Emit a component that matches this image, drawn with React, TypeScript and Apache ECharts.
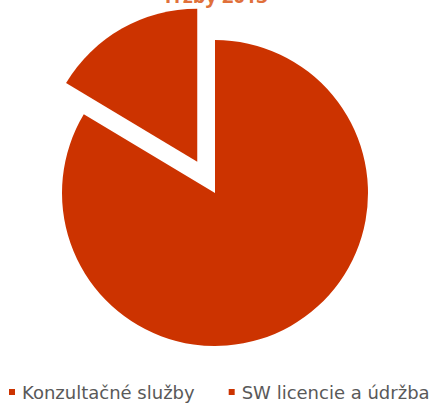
import React, { useEffect, useRef } from "react";
import * as echarts from "echarts";

const categories = ["Konzultačné služby", "SW licencie a údržba"];
const values = [83.6, 16.4];
const titleText = "Tržby 2013";

export default function App() {
  const ref = useRef<HTMLDivElement>(null);
  useEffect(() => {
    if (!ref.current) return;
    const chart = echarts.init(ref.current, undefined, { renderer: "svg" });
    chart.setOption({
      animation: false,
      color: ["#CC3300", "#CC3300"],
      graphic: [
        {
          type: "text",
          x: 215,
          y: 5,
          style: {
            text: titleText,
            align: "center",
            verticalAlign: "bottom",
            fill: "#E0703A",
            fontSize: 20,
            fontWeight: "bold",
            fontFamily: "Open Sans",
          },
        },
      ],
      legend: {
        left: 9,
        top: 383,
        width: 480,
        padding: 0,
        icon: "rect",
        itemWidth: 6,
        itemHeight: 6,
        itemGap: 34,
        textStyle: { color: "#595959", fontSize: 18, fontFamily: "DejaVu Sans", padding: [0, 0, 0, 2] },
        data: categories,
      },
      series: [
        {
          type: "pie",
          center: [215, 193],
          radius: 153,
          startAngle: 90,
          clockwise: true,
          selectedMode: "single",
          selectedOffset: 36,
          label: { show: false },
          labelLine: { show: false },
          emphasis: { disabled: true },
          itemStyle: { borderWidth: 0 },
          data: categories.map((name, i) => ({
            name,
            value: values[i],
            selected: i === 1,
          })),
        },
      ],
    });
    return () => chart.dispose();
  }, []);
  return (
    <div
      ref={ref}
      style={{ position: "absolute", left: 0, top: 0, width: 430, height: 403, background: "#fff" }}
    />
  );
}
